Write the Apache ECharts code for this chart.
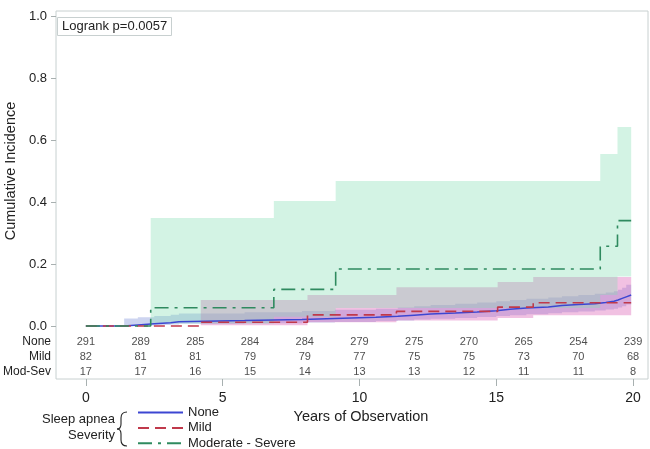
<!DOCTYPE html>
<html>
<head>
<meta charset="utf-8">
<script src="https://cdn.jsdelivr.net/npm/echarts@6/dist/echarts.min.js"></script>
<style>
html,body{margin:0;padding:0;background:#fff;}
#chart{width:650px;height:449px;}
</style>
</head>
<body>
<div id="chart"></div>
<script>
// ---- Data ----
const noneT  = [0,1.4,1.9,2.5,3.1,3.4,5.8,7.9,9.1,10.6,11.4,12.0,12.6,13.5,14.3,15.0,15.5,16.1,16.9,17.4,18.0,18.6,19.0,19.3,19.45,19.6,19.75,19.93];
const noneV  = [0,0.0035,0.007,0.0105,0.014,0.0175,0.021,0.0245,0.028,0.0315,0.035,0.0385,0.042,0.0455,0.049,0.054,0.058,0.061,0.066,0.069,0.072,0.076,0.08,0.084,0.089,0.094,0.1,0.1];
const noneLo = [0,0.0005,0.0015,0.003,0.005,0.007,0.009,0.011,0.013,0.016,0.018,0.021,0.023,0.026,0.029,0.032,0.035,0.038,0.041,0.044,0.047,0.05,0.053,0.056,0.06,0.064,0.069,0.069];
const noneHi = [0,0.024,0.028,0.032,0.036,0.04,0.044,0.048,0.052,0.056,0.06,0.064,0.068,0.072,0.076,0.08,0.084,0.088,0.092,0.096,0.1,0.104,0.108,0.112,0.117,0.123,0.133,0.133];

const mildT  = [0,4.2,8.1,11.35,15.05,16.35,19.93];
const mildV  = [0,0.012,0.036,0.047,0.061,0.075,0.075];
const mildLo = [0,0.002,0.012,0.018,0.026,0.035,0.035];
const mildHi = [0,0.084,0.1,0.125,0.142,0.158,0.158];

const modT  = [0,2.37,6.87,9.13,18.8,19.43,19.93];
const modV  = [0,0.059,0.118,0.184,0.257,0.34,0.34];
const modLo = [0,0.008,0.03,0.058,0.1,0.16,0.16];
const modHi = [0,0.348,0.403,0.468,0.555,0.642,0.642];

const riskTimes  = [0,2,4,6,8,10,12,14,16,18,20];
const riskNone   = [291,289,285,284,284,279,275,270,265,254,239];
const riskMild   = [82,81,81,79,79,77,75,75,73,70,68];
const riskModSev = [17,17,16,15,14,13,13,12,11,11,8];
const riskRows   = ['None','Mild','Mod-Sev'];
const riskRowY   = [-0.0516,-0.1,-0.148];

const xTicks = [0,5,10,15,20];
const yTicks = [0,0.2,0.4,0.6,0.8,1.0];
const seriesNames = ['None','Mild','Moderate - Severe'];

// ---- Chart ----
const FONT = '"Liberation Sans", Arial, sans-serif';
const chart = echarts.init(document.getElementById('chart'), null, {renderer:'canvas'});

function zip(t, v){ return t.map((x,i)=>[x, v[i]]); }

function band(times, lo, hi, color){
  return {
    type:'custom', silent:true, z:1, clip:true,
    data:[[times[0], lo[0]]],
    encode:{x:0, y:1},
    renderItem:function(params, api){
      if (params.dataIndex !== 0) return null;
      const n = times.length, pts = [];
      for (let i=0;i<n;i++){
        pts.push(api.coord([times[i], hi[i]]));
        if (i<n-1) pts.push(api.coord([times[i+1], hi[i]]));
      }
      for (let i=n-1;i>=0;i--){
        if (i<n-1) pts.push(api.coord([times[i+1], lo[i]]));
        pts.push(api.coord([times[i], lo[i]]));
      }
      return {type:'polygon', shape:{points:pts}, style:{fill:color, stroke:null}};
    }
  };
}

const riskData = [];
[riskNone, riskMild, riskModSev].forEach((row, r)=>{
  row.forEach((n,i)=>riskData.push([riskTimes[i], riskRowY[r], n]));
});

const braceStyle = {fill:null, stroke:'#222', lineWidth:1.1};
const option = {
  animation:false,
  backgroundColor:'#fff',
  title:{
    text:'Logrank p=0.0057', left:57, top:17,
    padding:[3,5,3,5], borderColor:'#c8d0d0', borderWidth:1,
    textStyle:{fontFamily:FONT, fontSize:13, fontWeight:'normal', color:'#222'}
  },
  legend:{
    data:seriesNames, orient:'vertical', left:137, top:406, height:60, padding:0,
    itemWidth:45, itemHeight:12, itemGap:2.4,
    itemStyle:{opacity:0},
    textStyle:{fontFamily:FONT, fontSize:13, color:'#222'}
  },
  grid:{left:53, right:2, top:11, bottom:70, show:true, borderColor:'#c8d0d0', borderWidth:1, backgroundColor:'transparent'},
  xAxis:{
    type:'value', min:-1.0909, max:20.545,
    axisLine:{show:false, onZero:false}, splitLine:{show:false},
    axisTick:{show:true, length:7, customValues:xTicks, lineStyle:{color:'#a8b0b0'}},
    axisLabel:{customValues:xTicks, margin:12, fontFamily:FONT, fontSize:14, color:'#222'}
  },
  yAxis:[{
    type:'value', min:-0.171, max:1.0161,
    axisLine:{show:false, onZero:false}, splitLine:{show:false},
    axisTick:{show:true, length:5, customValues:yTicks, lineStyle:{color:'#a8b0b0'}},
    axisLabel:{customValues:yTicks, margin:9, fontFamily:FONT, fontSize:13, color:'#222',
      formatter:v=>v.toFixed(1)}
  },{
    type:'value', min:-0.171, max:1.0161, position:'left',
    axisLine:{show:false, onZero:false}, splitLine:{show:false}, axisTick:{show:false},
    axisLabel:{customValues:riskRowY, margin:5, fontFamily:FONT, fontSize:12, color:'#222',
      formatter:v=>{ const i = riskRowY.findIndex(r=>Math.abs(r-v)<1e-6); return i>=0 ? riskRows[i] : ''; }}
  }],
  graphic:[
    {type:'text', x:11, y:171, rotation:Math.PI/2,
      style:{text:'Cumulative Incidence', fontFamily:FONT, fontSize:14.5, fill:'#222', align:'center', verticalAlign:'middle'}},
    {type:'text', x:361, y:417,
      style:{text:'Years of Observation', fontFamily:FONT, fontSize:14.5, fill:'#222', align:'center', verticalAlign:'middle'}},
    {type:'text', x:115, y:419,
      style:{text:'Sleep apnea', fontFamily:FONT, fontSize:13, fill:'#222', align:'right', verticalAlign:'middle'}},
    {type:'text', x:115, y:435,
      style:{text:'Severity', fontFamily:FONT, fontSize:13, fill:'#222', align:'right', verticalAlign:'middle'}},
    {type:'bezierCurve', shape:{x1:127,y1:412,cpx1:121,cpy1:412,x2:121,y2:418}, style:braceStyle},
    {type:'line', shape:{x1:121,y1:418,x2:121,y2:424}, style:braceStyle},
    {type:'bezierCurve', shape:{x1:121,y1:424,cpx1:121,cpy1:429,x2:117,y2:429}, style:braceStyle},
    {type:'bezierCurve', shape:{x1:117,y1:429,cpx1:121,cpy1:429,x2:121,y2:434}, style:braceStyle},
    {type:'line', shape:{x1:121,y1:434,x2:121,y2:440}, style:braceStyle},
    {type:'bezierCurve', shape:{x1:121,y1:440,cpx1:121,cpy1:446,x2:127,y2:446}, style:braceStyle}
  ],
  series:[
    band(noneT, noneLo, noneHi, 'rgba(112,132,212,0.35)'),
    band(mildT, mildLo, mildHi, 'rgba(217,92,180,0.38)'),
    band(modT, modLo, modHi, 'rgba(129,221,178,0.35)'),
    {name:'None', type:'line', step:'end', symbol:'none', z:3, data:zip(noneT, noneV),
      lineStyle:{color:'#3c46d2', width:1.5, type:'solid'}, itemStyle:{color:'#3c46d2'}},
    {name:'Mild', type:'line', step:'end', symbol:'none', z:3, data:zip(mildT, mildV),
      lineStyle:{color:'#c0394b', width:1.6, type:[11,6]}, itemStyle:{color:'#c0394b'}},
    {name:'Moderate - Severe', type:'line', step:'end', symbol:'none', z:3, data:zip(modT, modV),
      lineStyle:{color:'#2f8a5f', width:1.6, type:[14,6,3,6]}, itemStyle:{color:'#2f8a5f'}},
    {type:'scatter', symbolSize:0, silent:true, z:4, data:riskData,
      label:{show:true, position:'inside', formatter:p=>String(p.value[2]),
        fontFamily:FONT, fontSize:11, color:'#222'}}
  ]
};
chart.setOption(option);
</script>
</body>
</html>
